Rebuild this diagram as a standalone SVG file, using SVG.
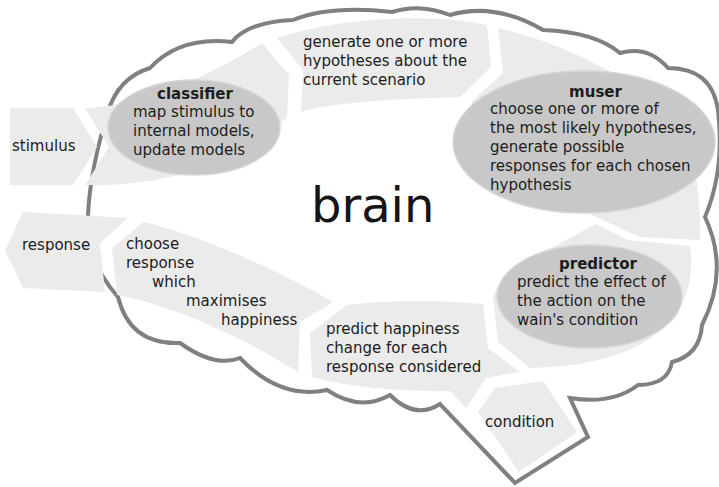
<svg xmlns="http://www.w3.org/2000/svg" width="719" height="487" viewBox="0 0 719 487">
  <style>
    .seg{fill:#ebebeb}
    .ell{fill:#c8c8c8;stroke:#d6d6d6;stroke-width:1.5}
    .outline{fill:#ffffff;stroke:#808080;stroke-width:4;stroke-linejoin:miter}
    text{font-family:"DejaVu Sans","Liberation Sans",sans-serif;font-size:15px;fill:#1c1c1c}
    .b{font-weight:bold}
    .big{font-size:48px;fill:#151515}
  </style>

  <!-- brain outline (cloud with a spout at the bottom) -->
  <g id="brain-outline">
    <path class="outline" d="M108,112 Q118,78 150,68 Q180,36 232,42 Q248,22 293,20 Q330,5 392,12 Q420,3 450,15 Q495,2 543,30 Q595,32 620,53 Q648,45 668,68 Q712,68 718,110 Q725,170 705,217 Q730,270 702,325 Q700,355 672,362 Q668,385 638,385 Q612,405 570,398 L588,437 L515,483 L440,404 Q415,420 390,395 Q360,412 327,390 Q280,400 240,358 Q215,368 180,343 Q130,345 118,297 Q85,260 88,215 Q90,170 108,112 Z"/>
  </g>

  <g id="brain-label">
    <text class="big" x="311" y="222">brain</text>
  </g>

  <!-- inputs and outputs -->
  <g id="stimulus">
    <path class="seg" d="M10,108 L73,108 L97,147 L73,185 L10,185 Z"/>
    <text x="12" y="151">stimulus</text>
  </g>

  <g id="response">
    <path class="seg" d="M23,212 L128,218 L100,243 L105,292 L23,288 L5,250 Z"/>
    <text x="22" y="250">response</text>
  </g>

  <g id="condition">
    <path class="seg" d="M495,388 L543,381 L577,432 L519,472 L478,412 Z"/>
    <text x="485" y="427">condition</text>
  </g>

  <!-- processing loop -->
  <g id="classifier">
    <path class="seg" d="M85,108 L109,147 L85,185 C160,187 240,165 287,117 L289,75 L262,43 Q160,106 85,108 Z"/>
    <ellipse class="ell" cx="194" cy="127.5" rx="86" ry="47.5"/>
    <text class="b" x="195" y="99" text-anchor="middle">classifier</text>
    <text x="133" y="117">map stimulus to</text>
    <text x="133" y="136">internal models,</text>
    <text x="133" y="155">update models</text>
  </g>

  <g id="hypotheses">
    <path class="seg" d="M277,38 C320,22 420,10 487,25 L491,67 L460,97 Q340,100 301,112 L303,70 Z"/>
    <text x="303" y="47">generate one or more</text>
    <text x="303" y="66">hypotheses about the</text>
    <text x="303" y="85">current scenario</text>
  </g>

  <g id="muser">
    <path class="seg" d="M498,28 C560,42 625,74 675,115 C698,150 700,200 700,240 L640,237 L607,222 C560,200 470,170 472,101 L503,73 Z"/>
    <ellipse class="ell" cx="584" cy="142" rx="131" ry="71"/>
    <text class="b" x="595.5" y="97" text-anchor="middle">muser</text>
    <text x="490" y="114">choose one or more of</text>
    <text x="490" y="133">the most likely hypotheses,</text>
    <text x="490" y="152">generate possible</text>
    <text x="490" y="171">responses for each chosen</text>
    <text x="490" y="190">hypothesis</text>
  </g>

  <g id="predictor">
    <path class="seg" d="M595,224 L628,240 L690,246 C698,300 670,365 530,368 L498,342 L493,297 C500,270 560,245 595,224 Z"/>
    <ellipse class="ell" cx="589.5" cy="296.5" rx="92.5" ry="51.5"/>
    <text class="b" x="598" y="269" text-anchor="middle">predictor</text>
    <text x="517" y="287">predict the effect of</text>
    <text x="517" y="306">the action on the</text>
    <text x="517" y="325">wain's condition</text>
  </g>

  <g id="happiness-change">
    <path class="seg" d="M347,305 C390,300 440,300 483,304 L488,348 L520,372 L486,378 L466,408 L450,391 C410,392 350,388 312,377 L310,333 Z"/>
    <text x="326" y="334">predict happiness</text>
    <text x="326" y="353">change for each</text>
    <text x="326" y="372">response considered</text>
  </g>

  <g id="choose-response">
    <path class="seg" d="M143,222 C190,232 280,270 333,302 L300,322 L298,372 C240,335 170,305 117,295 L112,248 Z"/>
    <text x="126" y="249">choose</text>
    <text x="126" y="268">response</text>
    <text x="152" y="287">which</text>
    <text x="186" y="306">maximises</text>
    <text x="221" y="325">happiness</text>
  </g>
</svg>
